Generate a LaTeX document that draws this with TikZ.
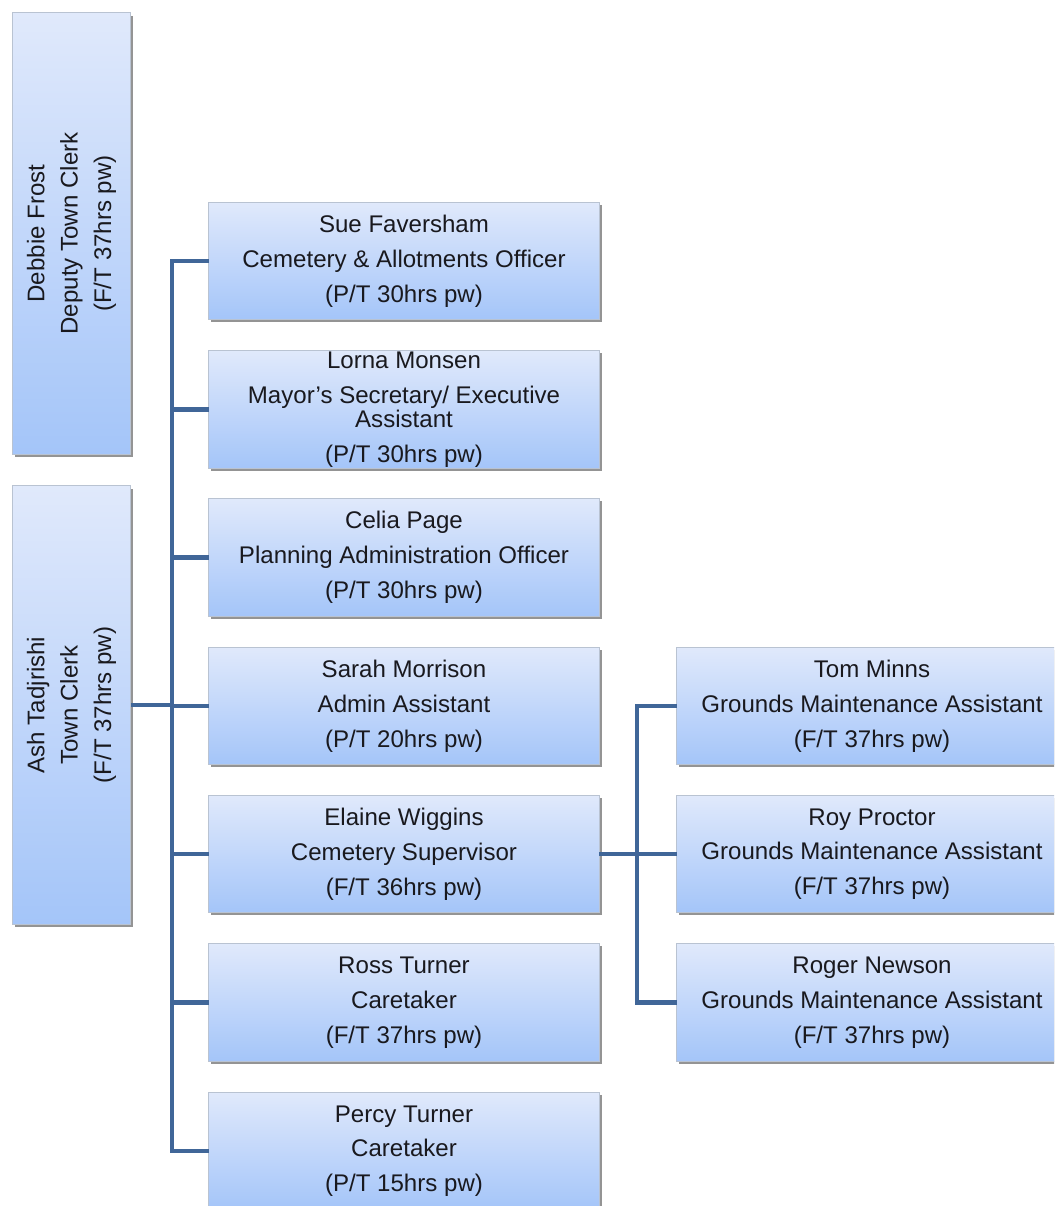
\documentclass[tikz,border=0pt]{standalone}
\usepackage{fontspec}
\setmainfont{Liberation Sans}
\usetikzlibrary{shadows}
\definecolor{conncol}{RGB}{64,102,152}
\definecolor{boxtop}{RGB}{224,233,251}
\definecolor{boxbot}{RGB}{164,197,249}
\definecolor{boxline}{RGB}{185,195,210}
\definecolor{txtcol}{RGB}{25,25,30}
\tikzset{
  orgbox/.style={draw=boxline, line width=0.5pt, top color=boxtop, bottom color=boxbot,
    inner sep=0pt, outer sep=0pt, minimum width={392*0.5669pt}, minimum height={118*0.5669pt},
    drop shadow={shadow xshift=1.3pt, shadow yshift=-1.5pt, opacity=0.6, fill=black!70},
    align=center, text=txtcol, font=\fontsize{13.7}{13.6}\selectfont},
  sidebox/.style={orgbox, minimum width={119*0.5669pt}},
  sidetxt/.style={rotate=90, align=center, text=txtcol, inner sep=0pt, font=\fontsize{13.7}{19}\selectfont},
  conn/.style={draw=conncol, line width=2.8pt, line join=miter, line cap=butt}
}
\begin{document}
\begin{tikzpicture}[x=0.02cm, y=-0.02cm]
\useasboundingbox (0,0) rectangle (1054,1206);
\clip (0,0) rectangle (1054,1206);
% left boxes
\node[sidebox, minimum height={443*0.5669pt}] (debbie) at (71.5,233.5) {};
\node[sidetxt] (debbiet) at (debbie.center) {Debbie Frost\\Deputy Town Clerk\\(F/T 37hrs pw)};
\node[sidebox, minimum height={440*0.5669pt}] (ash) at (71.5,705) {};
\node[sidetxt] (asht) at (ash.center) {Ash Tadjrishi\\Town Clerk\\(F/T 37hrs pw)};
% middle column
\node[orgbox] (sue) at (404,261) {Sue Faversham\\[6.2pt]Cemetery \& Allotments Officer\\[6.2pt](P/T 30hrs pw)};
\node[orgbox] (lorna) at (404,409.5) {Lorna Monsen\\[6.2pt]Mayor's Secretary/ Executive\\Assistant\\[6.2pt](P/T 30hrs pw)};
\node[orgbox] (celia) at (404,557.5) {Celia Page\\[6.2pt]Planning Administration Officer\\[6.2pt](P/T 30hrs pw)};
\node[orgbox] (sarah) at (404,706) {Sarah Morrison\\[6.2pt]Admin Assistant\\[6.2pt](P/T 20hrs pw)};
\node[orgbox] (elaine) at (404,854) {Elaine Wiggins\\[6.2pt]Cemetery Supervisor\\[6.2pt](F/T 36hrs pw)};
\node[orgbox] (ross) at (404,1002.5) {Ross Turner\\[6.2pt]Caretaker\\[6.2pt](F/T 37hrs pw)};
\node[orgbox] (percy) at (404,1151) {Percy Turner\\[6.2pt]Caretaker\\[6.2pt](P/T 15hrs pw)};
% right column
\node[orgbox] (tom) at (872,706) {Tom Minns\\[6.2pt]Grounds Maintenance Assistant\\[6.2pt](F/T 37hrs pw)};
\node[orgbox] (roy) at (872,854) {Roy Proctor\\[6.2pt]Grounds Maintenance Assistant\\[6.2pt](F/T 37hrs pw)};
\node[orgbox] (roger) at (872,1002.5) {Roger Newson\\[6.2pt]Grounds Maintenance Assistant\\[6.2pt](F/T 37hrs pw)};
% connectors
\coordinate (sp) at (172,0);
\coordinate (sp2) at (637,0);
\draw[conn] (sue.west) -- (sue.west -| sp) -- (percy.west -| sp) -- (percy.west);
\draw[conn] (lorna.west) -- (lorna.west -| sp);
\draw[conn] (celia.west) -- (celia.west -| sp);
\draw[conn] (sarah.west) -- (sarah.west -| sp);
\draw[conn] (elaine.west) -- (elaine.west -| sp);
\draw[conn] (ross.west) -- (ross.west -| sp);
\draw[conn] (ash.east) -- (ash.east -| sp);
\draw[conn] (tom.west) -- (tom.west -| sp2) -- (roger.west -| sp2) -- (roger.west);
\draw[conn] (elaine.east) -- (roy.west);
\end{tikzpicture}
\end{document}
